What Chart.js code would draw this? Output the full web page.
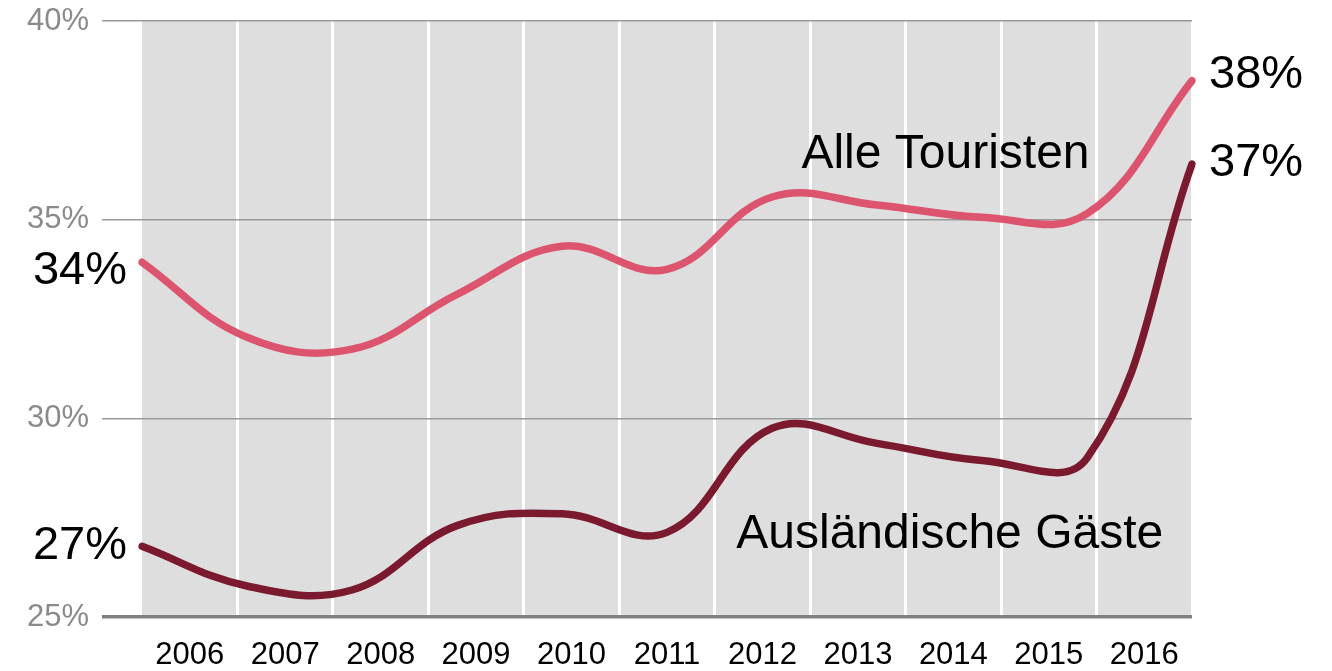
<!DOCTYPE html>
<html>
<head>
<meta charset="utf-8">
<script src="https://cdn.jsdelivr.net/npm/chart.js@4.4.1/dist/chart.umd.min.js"></script>
<style>
  html, body { margin: 0; padding: 0; background: #fff; }
  #c { display: block; }
</style>
</head>
<body>
<canvas id="c" width="1332" height="671"></canvas>
<script>
// ---- data ----
const years = ['2006','2007','2008','2009','2010','2011','2012','2013','2014','2015','2016'];
const alleTouristen = [33.93, 32.04, 31.74, 33.12, 34.33, 33.75, 35.57, 35.37, 35.06, 35.15, 38.5];
const auslaendischeGaeste = [26.78, 25.78, 25.68, 27.3, 27.6, 27.13, 29.75, 29.37, 28.94, 29.0, 36.4];
const yTicks = [25, 30, 35, 40];
const endLabels = { alleStart: '34%', alleEnd: '38%', auslStart: '27%', auslEnd: '37%' };
const seriesNames = ['Alle Touristen', 'Ausländische Gäste'];

const FONT = '"Liberation Sans", Arial, sans-serif';
const PINK = '#dc546e';
const DARK = '#7b1a2e';

const bgPlugin = {
  id: 'plotBg',
  beforeDraw(chart) {
    const { ctx, chartArea: a } = chart;
    ctx.save();
    ctx.fillStyle = '#dedede';
    ctx.fillRect(a.left, a.top, a.right - a.left, a.bottom - a.top);
    ctx.restore();
  }
};

const textPlugin = {
  id: 'annot',
  afterDatasetsDraw(chart) {
    const { ctx } = chart;
    const xs = chart.scales.xData, ys = chart.scales.y;
    const last = years.length - 1;
    ctx.save();
    ctx.fillStyle = '#000';
    ctx.font = '47px ' + FONT;
    ctx.textBaseline = 'middle';
    ctx.textAlign = 'right';
    ctx.fillText(endLabels.alleStart, xs.getPixelForValue(0) - 15, ys.getPixelForValue(alleTouristen[0]) + 9);
    ctx.fillText(endLabels.auslStart, xs.getPixelForValue(0) - 15, ys.getPixelForValue(auslaendischeGaeste[0]));
    ctx.textAlign = 'left';
    ctx.fillText(endLabels.alleEnd, xs.getPixelForValue(last) + 17, ys.getPixelForValue(alleTouristen[last]) - 6);
    ctx.fillText(endLabels.auslEnd, xs.getPixelForValue(last) + 17, ys.getPixelForValue(auslaendischeGaeste[last]) - 1);
    ctx.font = '48px ' + FONT;
    ctx.textBaseline = 'alphabetic';
    ctx.fillText(seriesNames[0], xs.getPixelForValue(6.28), ys.getPixelForValue(36.3));
    ctx.fillText(seriesNames[1], xs.getPixelForValue(5.66), ys.getPixelForValue(26.73));
    ctx.restore();
  }
};

new Chart(document.getElementById('c'), {
  type: 'line',
  data: {
    labels: years,
    datasets: [
      {
        label: seriesNames[0], data: alleTouristen, xAxisID: 'xData',
        borderColor: PINK, borderWidth: 7.5, borderCapStyle: 'round', borderJoinStyle: 'round',
        tension: 0.4, pointRadius: 0, fill: false
      },
      {
        label: seriesNames[1], data: auslaendischeGaeste, xAxisID: 'xData',
        borderColor: DARK, borderWidth: 7.5, borderCapStyle: 'round', borderJoinStyle: 'round',
        tension: 0.4, pointRadius: 0, fill: false
      }
    ]
  },
  options: {
    responsive: false,
    animation: false,
    devicePixelRatio: 1,
    layout: { padding: { top: 21, right: 140, left: 0, bottom: 0 } },
    plugins: { legend: { display: false }, tooltip: { enabled: false } },
    scales: {
      x: {
        type: 'category',
        position: 'bottom',
        offset: true,
        grid: {
          offset: true,
          drawTicks: false,
          lineWidth: 3,
          color: (c) => (c.index === 0 ? 'rgba(0,0,0,0)' : '#ffffff'),
          z: -2
        },
        border: { display: false },
        ticks: { color: '#000', font: { family: FONT, size: 31 }, padding: 20, maxRotation: 0, autoSkip: false },
        afterFit(s) { s.height = 54; s.paddingLeft = 0; s.paddingRight = 0; }
      },
      xData: {
        type: 'category',
        position: 'bottom',
        offset: false,
        display: false
      },
      y: {
        min: 25, max: 40,
        afterBuildTicks(s) { s.ticks = yTicks.map(v => ({ value: v })); },
        grid: {
          drawTicks: true,
          tickLength: 40,
          color: (c) => (c.tick && c.tick.value === 25 ? '#808080' : '#9a9a9a'),
          tickColor: (c) => (c.tick && c.tick.value === 25 ? '#808080' : '#9a9a9a'),
          lineWidth: (c) => (c.tick && c.tick.value === 25 ? 3.5 : 1.5),
          tickWidth: (c) => (c.tick && c.tick.value === 25 ? 3.5 : 1.5),
          z: -1
        },
        border: { display: false },
        ticks: {
          color: '#8a8a8a',
          font: { family: FONT, size: 31 },
          padding: 13,
          callback: (v) => v + '%'
        },
        afterFit(s) { s.width = 142; s.paddingTop = 0; s.paddingBottom = 0; }
      }
    }
  },
  plugins: [bgPlugin, textPlugin]
});
</script>
</body>
</html>
